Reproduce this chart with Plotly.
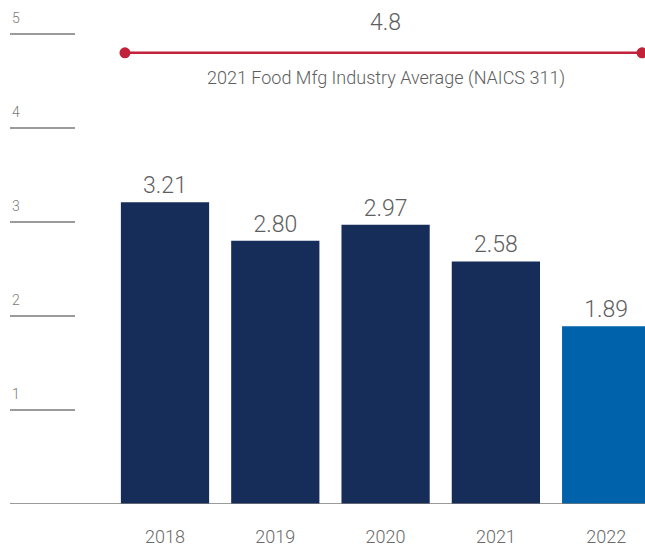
import plotly.graph_objects as go

# Data
years = ["2018", "2019", "2020", "2021", "2022"]
rates = [3.21, 2.80, 2.97, 2.58, 1.89]
bar_colors = ["#162D59", "#162D59", "#162D59", "#162D59", "#0062AB"]
industry_avg = 4.8
industry_label = "2021 Food Mfg Industry Average (NAICS 311)"
y_ticks = [1, 2, 3, 4, 5]

W, H = 645, 548
FONT = "Roboto"
TEXT_GRAY = "#5e5e5e"

x_pos = list(range(len(years)))
x_range = [-1.496, 4.352]
y_range = [0, 5.3617]

fig = go.Figure()

fig.add_trace(go.Bar(
    x=x_pos, y=rates, width=0.8,
    marker=dict(color=bar_colors, line=dict(width=0)),
    text=[f"{v:.2f}" for v in rates],
    textposition="outside",
    textfont=dict(family=FONT, size=23, color=TEXT_GRAY, weight=300),
    cliponaxis=False,
    hoverinfo="skip",
))

# Industry average reference line with end dots
fig.add_trace(go.Scatter(
    x=[-0.363, 4.325], y=[industry_avg, industry_avg],
    mode="lines+markers",
    line=dict(color="#C1223A", width=2.5),
    marker=dict(color="#C1223A", size=11),
    cliponaxis=False,
    hoverinfo="skip",
))

fig.add_annotation(
    x=2, y=industry_avg, text=f"{industry_avg}", showarrow=False,
    yshift=30, font=dict(family=FONT, size=23, color=TEXT_GRAY, weight=300),
)
fig.add_annotation(
    x=2, y=industry_avg, text=industry_label, showarrow=False,
    yshift=-25, font=dict(family=FONT, size=18, color=TEXT_GRAY, weight=300),
)

# Short tick rules and labels on the left
shapes = []
for t in y_ticks:
    shapes.append(dict(
        type="line", xref="paper", yref="y",
        x0=10 / W, x1=75 / W, y0=t, y1=t,
        line=dict(color="#7a7a7a", width=1.3),
    ))
    fig.add_annotation(
        xref="paper", yref="y", x=10 / W, y=t, text=str(t),
        showarrow=False, xanchor="left", yanchor="bottom", yshift=6,
        font=dict(family=FONT, size=14, color="#7a7a7a", weight=300),
    )
# Baseline
shapes.append(dict(
    type="line", xref="paper", yref="y",
    x0=10 / W, x1=1, y0=0, y1=0,
    line=dict(color="#7a7a7a", width=1.3),
))

fig.update_layout(
    width=W, height=H,
    margin=dict(l=0, r=0, t=0, b=44),
    paper_bgcolor="white", plot_bgcolor="white",
    showlegend=False,
    shapes=shapes,
    bargap=0.2,
    xaxis=dict(
        range=x_range, tickmode="array", tickvals=x_pos, ticktext=years,
        showgrid=False, zeroline=False, showline=False, ticks="",
        ticklabelstandoff=20,
        tickfont=dict(family=FONT, size=18, color="#6a6a6a", weight=300),
        fixedrange=True,
    ),
    yaxis=dict(
        range=y_range, showgrid=False, zeroline=False, showline=False,
        showticklabels=False, fixedrange=True,
    ),
)

fig.write_html("out.html")
